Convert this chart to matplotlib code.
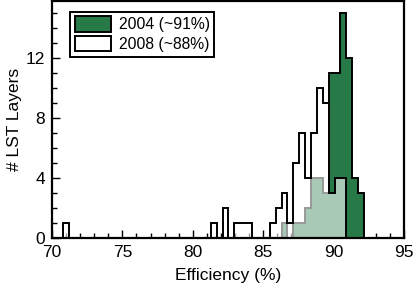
import numpy as np
import matplotlib
matplotlib.use("Agg")
import matplotlib.pyplot as plt
from matplotlib.patches import Patch

plt.rcParams['font.family'] = ['Liberation Sans', 'DejaVu Sans']

# ---------- DATA ----------
bin_start = 70.80
bin_width = 0.419

# 2008 counts per bin, starting at bin_start
counts_2008 = [1] + [0] * 24 + [1, 0, 2, 0, 1, 1, 1, 0, 0, 0,
                                1, 2, 3, 1, 5, 7, 4, 7, 10, 9, 3, 4, 4,
                                0, 0, 0, 0]
# 2004 counts per bin, same binning
counts_2004 = [0] * 37 + [1, 0, 1, 1, 2, 4, 4, 3, 11, 11, 15, 12, 4, 3, 0]

labels = ["2004 (~91%)", "2008 (~88%)"]
dark_green = "#277a47"

# ---------- PLOT ----------
edges = bin_start + bin_width * np.arange(len(counts_2004) + 1)

fig = plt.figure(figsize=(4.16, 2.90), dpi=100)
ax = fig.add_axes([0.125, 0.179, 0.846, 0.818])

ax.stairs(counts_2004, edges, fill=True, facecolor=dark_green,
          edgecolor="black", linewidth=1.4, zorder=1)
ax.stairs(counts_2008, edges, fill=True, facecolor=(1, 1, 1, 0.6),
          edgecolor="black", linewidth=1.4, zorder=2)

ax.set_xlim(70, 95)
ax.set_ylim(0, 15.8)
ax.set_xticks(np.arange(70, 96, 5))
ax.set_xticks(np.arange(70, 96, 1), minor=True)
ax.set_yticks(np.arange(0, 15, 4))
ax.set_yticks(np.arange(0, 16, 1), minor=True)
ax.set_axisbelow(True)

ax.tick_params(which="both", direction="in", width=1, labelsize=12.5)
ax.tick_params(which="major", length=6)
ax.tick_params(which="minor", length=3.5)
ax.tick_params(axis="y", pad=5)
ax.tick_params(axis="x", pad=5)

for s in ax.spines.values():
    s.set_linewidth(1.6)
    s.set_zorder(3)

ax.set_xlabel("Efficiency (%)", fontsize=12.5, labelpad=6)
ax.set_ylabel("# LST Layers", fontsize=12.5, labelpad=3)

handles = [Patch(facecolor=dark_green, edgecolor="black", linewidth=1.4),
           Patch(facecolor="white", edgecolor="black", linewidth=1.4)]
leg = ax.legend(handles, labels, loc="upper left", bbox_to_anchor=(0.051, 0.954),
                borderaxespad=0, fancybox=False, edgecolor="black", framealpha=1,
                fontsize=11.3, handlelength=2.3, handleheight=1.1,
                labelspacing=0.25, borderpad=0.3, handletextpad=0.5)
leg.get_frame().set_linewidth(1.4)

fig.savefig("out.png", dpi=100)
